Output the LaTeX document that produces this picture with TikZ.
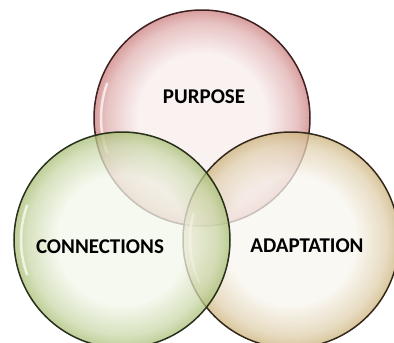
\documentclass[tikz,border=0pt]{standalone}
\usepackage{fontspec}
\setmainfont{Carlito}

\definecolor{redin}{HTML}{F8ECEC}
\definecolor{redout}{HTML}{CC7E7E}
\definecolor{redline}{HTML}{3E2020}
\definecolor{greenin}{HTML}{F3F7EA}
\definecolor{greenout}{HTML}{A8BE74}
\definecolor{greenline}{HTML}{26301A}
\definecolor{tanin}{HTML}{F8F5EE}
\definecolor{tanout}{HTML}{CCB27A}
\definecolor{tanline}{HTML}{34281A}

\pgfdeclareradialshading{redbubble}{\pgfpointorigin}{color(0bp)=(redin); color(15bp)=(redin); color(22bp)=(redout!55!redin); color(25bp)=(redout); color(50bp)=(redout)}
\pgfdeclareradialshading{greenbubble}{\pgfpointorigin}{color(0bp)=(greenin); color(15bp)=(greenin); color(22bp)=(greenout!55!greenin); color(25bp)=(greenout); color(50bp)=(greenout)}
\pgfdeclareradialshading{tanbubble}{\pgfpointorigin}{color(0bp)=(tanin); color(15bp)=(tanin); color(22bp)=(tanout!55!tanin); color(25bp)=(tanout); color(50bp)=(tanout)}

\tikzset{
  bubble/.style={fill opacity=0.75},
  rim/.style={line width=1.5pt},
  gloss/.style={white, line width=2.5pt, opacity=0.7, line cap=round},
  label/.style={font=\bfseries\fontsize{21}{21}\selectfont, text=black}
}

\begin{document}
\begin{tikzpicture}[x=1pt, y=-1pt]

  \def\rad{108}

  \useasboundingbox (0,0) rectangle (394,343);

  \coordinate (P) at (202,118);
  \coordinate (C) at (122,240);
  \coordinate (A) at (291,240);

  % circles
  \shade[bubble, shading=redbubble] (P) circle (\rad);
  \draw[rim, redline] (P) circle (\rad);
  \draw[gloss] ([shift={(160:\rad-7)}]P) arc [start angle=160, end angle=200, radius=\rad-7];

  \shade[bubble, shading=tanbubble] (A) circle (\rad);
  \draw[rim, tanline] (A) circle (\rad);
  \draw[gloss] ([shift={(155:\rad-7)}]A) arc [start angle=155, end angle=195, radius=\rad-7];

  \shade[bubble, shading=greenbubble] (C) circle (\rad);
  \draw[rim, greenline] (C) circle (\rad);
  \draw[gloss] ([shift={(160:\rad-7)}]C) arc [start angle=160, end angle=200, radius=\rad-7];

  % labels
  \node[label] (purpose) at (204,97) {PURPOSE};
  \node[label] (connections) at (100,247) {CONNECTIONS};
  \node[label] (adaptation) at (307,246) {ADAPTATION};

\end{tikzpicture}
\end{document}
